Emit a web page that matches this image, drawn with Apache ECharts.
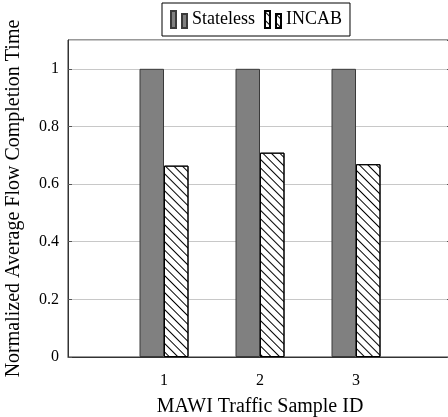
<!DOCTYPE html>
<html>
<head>
<meta charset="utf-8">
<script src="https://cdn.jsdelivr.net/npm/echarts@6/dist/echarts.min.js"></script>
<style>
html,body{margin:0;padding:0;background:#fff;}
#chart{width:448px;height:417px;}
</style>
</head>
<body>
<div id="chart"></div>
<script>
const categories = [1, 2, 3];
const seriesNames = ['Stateless', 'INCAB'];
const stateless = [1, 1, 1];
const incab = [0.664, 0.709, 0.669];
const yTicks = [0, 0.2, 0.4, 0.6, 0.8, 1];
const xLabel = 'MAWI Traffic Sample ID';
const yLabel = 'Normalized Average Flow Completion Time';

const FONT = 'Liberation Serif';
const chart = echarts.init(document.getElementById('chart'), null, {renderer: 'canvas'});

const hatch = {
  symbol: 'rect',
  symbolSize: 1,
  dashArrayX: [1, 0],
  dashArrayY: [1, 4.6],
  rotation: Math.PI / 4,
  color: '#000'
};

const barIcon = 'path://M0,0h5v17h-5z M11,3h5v14h-5z';

chart.setOption({
  animation: false,
  backgroundColor: '#fff',
  textStyle: {fontFamily: FONT},
  legend: {
    left: 162,
    top: 3,
    padding: [7, 8, 7, 8],
    itemGap: 9,
    itemWidth: 16,
    itemHeight: 17,
    borderColor: '#000',
    borderWidth: 1,
    textStyle: {fontFamily: FONT, fontSize: 18, color: '#000'},
    data: [
      {name: seriesNames[0], icon: barIcon},
      {name: seriesNames[1], icon: barIcon}
    ]
  },
  grid: {
    left: 68, top: 40, width: 384, height: 317,
    outerBoundsMode: 'none',
    containLabel: false,
    show: true, borderColor: '#333', borderWidth: 1
  },
  xAxis: {
    type: 'value',
    min: 0, max: 4, interval: 1,
    name: xLabel,
    nameLocation: 'middle',
    nameGap: 40,
    nameTextStyle: {fontFamily: FONT, fontSize: 20, color: '#000'},
    axisLine: {show: true, lineStyle: {color: '#333', width: 1}},
    axisTick: {show: false},
    splitLine: {show: false},
    axisLabel: {
      margin: 16,
      fontFamily: FONT, fontSize: 16, color: '#000',
      formatter: v => categories.includes(v) ? String(v) : ''
    }
  },
  yAxis: [{
    type: 'value',
    min: 0, max: 1.1, interval: 0.2,
    name: yLabel,
    nameLocation: 'middle',
    nameGap: 44,
    nameTextStyle: {fontFamily: FONT, fontSize: 20, color: '#000'},
    axisLine: {show: true, lineStyle: {color: '#333', width: 1}},
    axisTick: {show: true, inside: true, length: 4, lineStyle: {color: '#555'}},
    splitLine: {show: true, lineStyle: {color: '#c8c8c8', width: 1}},
    axisLabel: {
      margin: 9, fontFamily: FONT, fontSize: 16, color: '#000',
      showMaxLabel: false,
      formatter: v => yTicks.some(t => Math.abs(t - v) < 1e-9) ? String(+v.toFixed(1)) : ''
    }
  }, {
    type: 'value',
    position: 'right',
    min: 0, max: 1.1, interval: 0.2,
    axisLine: {show: true, lineStyle: {color: '#333'}},
    axisTick: {show: true, inside: true, length: 5, lineStyle: {color: '#555'}},
    splitLine: {show: false},
    axisLabel: {show: false}
  }],
  series: [{
    name: seriesNames[0],
    type: 'bar',
    barWidth: 24.5,
    barGap: '0%',
    itemStyle: {color: '#808080', borderColor: '#3a3a3a', borderWidth: 1},
    data: categories.map((c, i) => [c, stateless[i]])
  }, {
    name: seriesNames[1],
    type: 'bar',
    barWidth: 24.5,
    barGap: '0%',
    itemStyle: {color: '#fff', borderColor: '#000', borderWidth: 1, decal: hatch},
    data: categories.map((c, i) => [c, incab[i]])
  }]
});
</script>
</body>
</html>
